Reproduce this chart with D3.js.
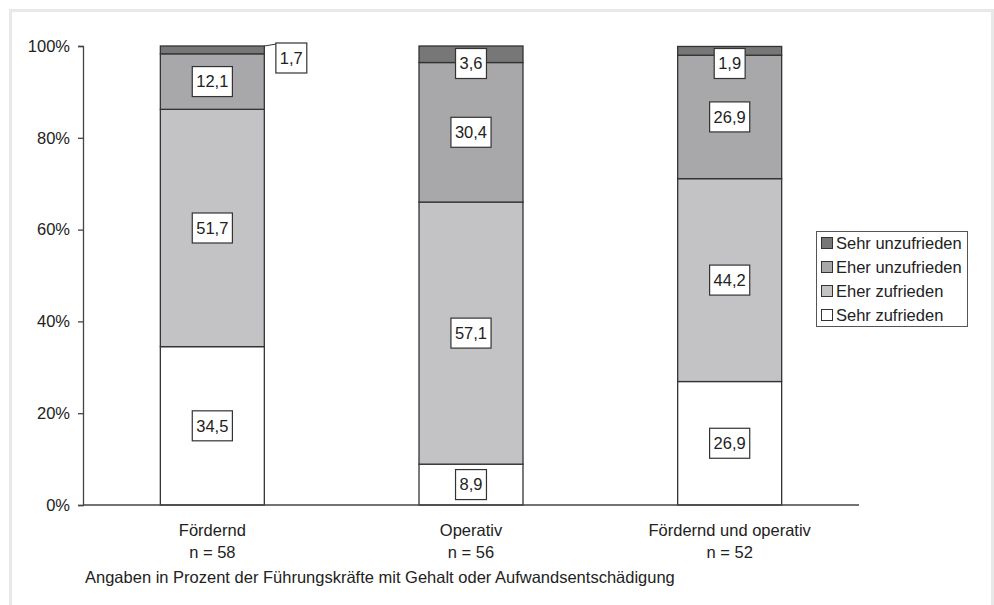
<!DOCTYPE html>
<html>
<head>
<meta charset="utf-8">
<script src="https://cdn.jsdelivr.net/npm/d3@7"></script>
<style>
  body { margin: 0; background: #fff; }
  text { font-family: "Liberation Sans", Arial, sans-serif; fill: #222; }
</style>
</head>
<body>
<div id="chart"></div>
<script>
var categories = ["Fördernd", "Operativ", "Fördernd und operativ"];
var sampleSizes = ["n = 58", "n = 56", "n = 52"];
var seriesNames = ["Sehr zufrieden", "Eher zufrieden", "Eher unzufrieden", "Sehr unzufrieden"];
var sehrZufrieden = [34.5, 8.9, 26.9];
var eherZufrieden = [51.7, 57.1, 44.2];
var eherUnzufrieden = [12.1, 30.4, 26.9];
var sehrUnzufrieden = [1.7, 3.6, 1.9];
var yTicks = [0, 20, 40, 60, 80, 100];
var footnote = "Angaben in Prozent der Führungskräfte mit Gehalt oder Aufwandsentschädigung";

var svgWidth = 994;
var svgHeight = 605;
var margin = { top: 46, right: 135, bottom: 100, left: 83 };
var width = svgWidth - margin.left - margin.right;
var height = svgHeight - margin.top - margin.bottom;
var fontSize = "16.5px";

var colors = ["#ffffff", "#c3c3c5", "#a8a8aa", "#777777"];

var svg = d3.select("#chart")
  .append("svg")
  .attr("width", svgWidth)
  .attr("height", svgHeight);

// light outer frame
svg.append("rect")
  .attr("x", 10.5)
  .attr("y", 10.5)
  .attr("width", 982)
  .attr("height", 610)
  .attr("fill", "none")
  .attr("stroke", "#e8e8e8")
  .attr("stroke-width", 3);

var chartGroup = svg.append("g")
  .attr("transform", `translate(${margin.left}, ${margin.top})`);

var rows = categories.map(function(c, i) {
  return {
    cat: c,
    "Sehr zufrieden": sehrZufrieden[i],
    "Eher zufrieden": eherZufrieden[i],
    "Eher unzufrieden": eherUnzufrieden[i],
    "Sehr unzufrieden": sehrUnzufrieden[i]
  };
});

var stacked = d3.stack().keys(seriesNames)(rows);

var xScale = d3.scaleBand()
  .domain(categories)
  .range([0, width])
  .paddingInner(0.598)
  .paddingOuter(0.299);

var yScale = d3.scaleLinear()
  .domain([0, 100])
  .range([height, 0]);

// bars
var layers = chartGroup.selectAll("g.layer")
  .data(stacked)
  .enter()
  .append("g")
  .attr("class", "layer")
  .attr("fill", (d, i) => colors[i]);

layers.selectAll("rect")
  .data(d => d)
  .enter()
  .append("rect")
  .attr("x", d => xScale(d.data.cat))
  .attr("y", d => yScale(d[1]))
  .attr("width", xScale.bandwidth())
  .attr("height", d => yScale(d[0]) - yScale(d[1]))
  .attr("stroke", "#333")
  .attr("stroke-width", 1.3);

// axes
var leftAxis = d3.axisLeft(yScale)
  .tickValues(yTicks)
  .tickFormat(d => d + "%")
  .tickSize(5)
  .tickPadding(8);

var yAxis = chartGroup.append("g").call(leftAxis);
yAxis.select(".domain").attr("stroke", "#444").attr("stroke-width", 1.3);
yAxis.selectAll(".tick line").attr("stroke", "#444").attr("stroke-width", 1.3);
yAxis.selectAll(".tick text")
  .style("font-size", fontSize)
  .style("font-family", "Liberation Sans, Arial, sans-serif")
  .attr("fill", "#222");

chartGroup.append("line")
  .attr("x1", 0)
  .attr("x2", width)
  .attr("y1", height)
  .attr("y2", height)
  .attr("stroke", "#444")
  .attr("stroke-width", 1.3);

// category labels
var xlabels = chartGroup.selectAll("g.xlab")
  .data(categories)
  .enter()
  .append("g")
  .attr("transform", d => `translate(${xScale(d) + xScale.bandwidth() / 2}, ${height})`);

xlabels.append("text")
  .attr("y", 31)
  .attr("text-anchor", "middle")
  .style("font-size", fontSize)
  .text(d => d);

xlabels.append("text")
  .attr("y", 53)
  .attr("text-anchor", "middle")
  .style("font-size", fontSize)
  .text((d, i) => sampleSizes[i]);

svg.append("text")
  .attr("x", 85)
  .attr("y", 583)
  .style("font-size", fontSize)
  .text(footnote);

// data labels
function addLabel(cx, cy, txt) {
  var g = chartGroup.append("g");
  var t = g.append("text")
    .attr("x", cx)
    .attr("y", cy)
    .attr("dy", "0.35em")
    .attr("text-anchor", "middle")
    .style("font-size", fontSize)
    .text(txt);
  var w = t.node().getComputedTextLength() + 8;
  g.insert("rect", "text")
    .attr("x", cx - w / 2)
    .attr("y", cy - 15)
    .attr("width", w)
    .attr("height", 30)
    .attr("fill", "#fff")
    .attr("stroke", "#333")
    .attr("stroke-width", 1.2);
  return w;
}

stacked.forEach(function(layer, li) {
  layer.forEach(function(d, ci) {
    var val = d[1] - d[0];
    var txt = String(val.toFixed(1)).replace(".", ",");
    var cx = xScale(d.data.cat) + xScale.bandwidth() / 2;
    var cy = (yScale(d[0]) + yScale(d[1])) / 2;
    if (li === 3 && ci === 0) {
      // outside with leader line
      var bx = xScale(d.data.cat) + xScale.bandwidth();
      var by = yScale(d[1]);
      chartGroup.append("line")
        .attr("x1", bx)
        .attr("y1", by)
        .attr("x2", bx + 12)
        .attr("y2", by - 2)
        .attr("stroke", "#333")
        .attr("stroke-width", 1);
      addLabel(bx + 27, by + 12, txt);
      return;
    }
    cy = Math.max(cy, 17.5);
    addLabel(cx, cy, txt);
  });
});

// legend
var legend = svg.append("g")
  .attr("transform", "translate(816, 231)");

legend.append("rect")
  .attr("x", 0.5)
  .attr("y", 0.5)
  .attr("width", 151)
  .attr("height", 95)
  .attr("fill", "#fff")
  .attr("stroke", "#555")
  .attr("stroke-width", 1);

var legendOrder = seriesNames.slice().reverse();
var items = legend.selectAll("g.item")
  .data(legendOrder)
  .enter()
  .append("g")
  .attr("transform", (d, i) => `translate(5, ${12 + i * 24})`);

items.append("rect")
  .attr("x", 0.5)
  .attr("y", -5.5)
  .attr("width", 11)
  .attr("height", 11)
  .attr("fill", d => colors[seriesNames.indexOf(d)])
  .attr("stroke", "#333")
  .attr("stroke-width", 1);

items.append("text")
  .attr("x", 15)
  .attr("dy", "0.35em")
  .style("font-size", fontSize)
  .text(d => d);
</script>
</body>
</html>
